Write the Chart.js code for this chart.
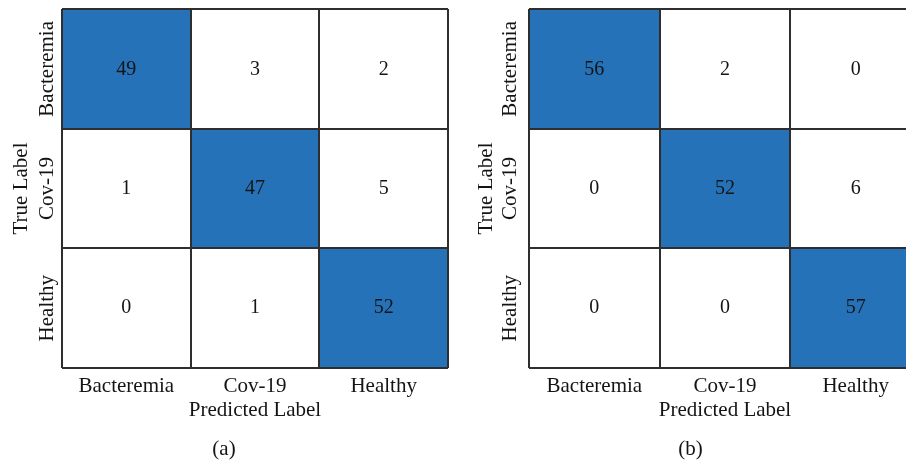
<!DOCTYPE html>
<html>
<head>
<meta charset="utf-8">
<script src="https://cdn.jsdelivr.net/npm/chart.js@4"></script>
<style>
  html, body { margin: 0; padding: 0; background: #fff; overflow: hidden; }
  body { width: 906px; height: 463px; position: relative; }
  canvas { position: absolute; top: 0; }
  #cmA { left: 0; }
  #cmB { left: 460px; }
</style>
</head>
<body>
<canvas id="cmA" width="460" height="463"></canvas>
<canvas id="cmB" width="470" height="463"></canvas>
<script>
// confusion matrices: rows = true label, columns = predicted label
const categories = ['Bacteremia', 'Cov-19', 'Healthy'];
const matrixA = [
  [49, 3, 2],
  [1, 47, 5],
  [0, 1, 52]
];
const matrixB = [
  [56, 2, 0],
  [0, 52, 6],
  [0, 0, 57]
];
const captions = ['(a)', '(b)'];

const BLUE = '#2672b9';
const LINE = '#2e2e2e';
const INK = '#141414';
const FONT = 'Liberation Serif';

// writes the count in the middle of each cell
const cellText = {
  id: 'cellText',
  afterDatasetsDraw(chart) {
    const ctx = chart.ctx;
    ctx.save();
    ctx.font = '20px "' + FONT + '"';
    ctx.fillStyle = INK;
    ctx.textAlign = 'center';
    ctx.textBaseline = 'middle';
    chart.data.datasets.forEach((ds, i) => {
      chart.getDatasetMeta(i).data.forEach((bar, j) => {
        ctx.fillText(String(ds.counts[j]), bar.x, (bar.y + bar.base) / 2);
      });
    });
    ctx.restore();
  }
};

// row names on the y axis, turned to read bottom to top
const rowLabels = {
  id: 'rowLabels',
  afterDraw(chart, args, opts) {
    const y = chart.scales.y;
    const ctx = chart.ctx;
    ctx.save();
    ctx.font = '21px "' + FONT + '"';
    ctx.fillStyle = INK;
    ctx.textAlign = 'center';
    ctx.textBaseline = 'middle';
    categories.forEach((name, r) => {
      ctx.save();
      ctx.translate(chart.chartArea.left - opts.gap, y.getPixelForValue(r + 0.5));
      ctx.rotate(-Math.PI / 2);
      ctx.fillText(name, 0, 0);
      ctx.restore();
    });
    ctx.restore();
  }
};

function makeMatrix(id, matrix, caption, axisW, titleGap, rowGap, padRight) {
  const datasets = matrix.map((row, r) => ({
    label: categories[r],
    counts: row,
    data: row.map(() => [r, r + 1]),
    backgroundColor: row.map((v, c) => (c === r ? BLUE : '#ffffff')),
    borderWidth: 0,
    grouped: false,
    barPercentage: 1,
    categoryPercentage: 1
  }));

  return new Chart(document.getElementById(id), {
    type: 'bar',
    data: { labels: categories, datasets: datasets },
    options: {
      responsive: false,
      animation: false,
      layout: { padding: { top: 9, right: padRight, left: 0, bottom: 0 } },
      scales: {
        x: {
          grid: { z: 1, color: LINE, lineWidth: 2, drawTicks: false },
          border: { display: false },
          ticks: { color: INK, padding: 6, font: { family: FONT, size: 21 } },
          title: {
            display: true,
            text: 'Predicted Label',
            color: INK,
            font: { family: FONT, size: 21 },
            padding: { top: 0, bottom: 14 }
          },
          afterFit(scale) { scale.height = 68.8; }
        },
        y: {
          min: 0,
          max: 3,
          reverse: true,
          grid: { z: 1, color: LINE, lineWidth: 2, drawTicks: false },
          border: { display: false },
          ticks: { display: false, stepSize: 1 },
          title: {
            display: true,
            text: 'True Label',
            color: INK,
            font: { family: FONT, size: 21 },
            padding: { top: titleGap + 1.5, bottom: 0 }
          },
          afterFit(scale) { scale.width = axisW; }
        }
      },
      plugins: {
        legend: { display: false },
        tooltip: { enabled: false },
        title: {
          display: true,
          position: 'bottom',
          text: caption,
          color: INK,
          font: { family: FONT, size: 21, weight: 'normal' },
          padding: { top: 0, bottom: 1 }
        },
        rowLabels: { gap: rowGap }
      }
    },
    plugins: [cellText, rowLabels]
  });
}

makeMatrix('cmA', matrixA, captions[0], 62, 7.4, 15, 12);
makeMatrix('cmB', matrixB, captions[1], 69, 12.4, 19, 9);
</script>
</body>
</html>
